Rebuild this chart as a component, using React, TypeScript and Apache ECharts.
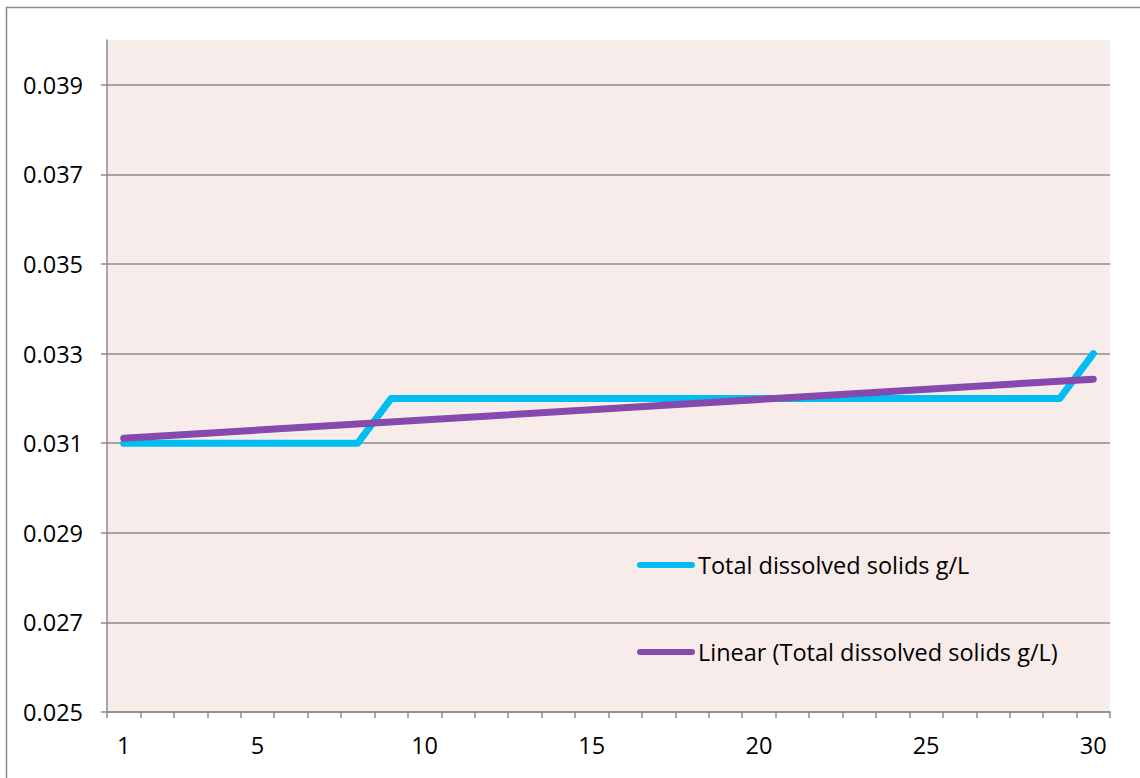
import React, { useEffect, useRef } from "react";
import * as echarts from "echarts";

// Sample days along the x axis
const days: string[] = Array.from({ length: 30 }, (_, i) => String(i + 1));
// Total dissolved solids per day, g/L
const tds: number[] = [
  0.031, 0.031, 0.031, 0.031, 0.031, 0.031, 0.031, 0.031,
  0.032, 0.032, 0.032, 0.032, 0.032, 0.032, 0.032, 0.032, 0.032, 0.032,
  0.032, 0.032, 0.032, 0.032, 0.032, 0.032, 0.032, 0.032, 0.032, 0.032, 0.032,
  0.033,
];
// Linear trend line end points (day 1 and day 30)
const trendStart = 0.03111;
const trendEnd = 0.03243;
// Y axis ticks
const yTicks: number[] = [0.025, 0.027, 0.029, 0.031, 0.033, 0.035, 0.037, 0.039];
// Days that carry an x axis label
const xLabelDays: number[] = [1, 5, 10, 15, 20, 25, 30];

const SERIES_NAME = "Total dissolved solids g/L";
const TREND_NAME = "Linear (Total dissolved solids g/L)";
const FONT = "'Open Sans', Lato, sans-serif";
const GRID_COLOR = "#8c8c8c";

export default function App() {
  const ref = useRef<HTMLDivElement>(null);

  useEffect(() => {
    document.body.style.margin = "0";
    if (!ref.current) return;
    const chart = echarts.init(ref.current, undefined, { renderer: "svg" });
    const capsule = "path://M3,0 L55,0 A3,3 0 0 1 55,6 L3,6 A3,3 0 0 1 3,0 Z";

    chart.setOption({
      animation: false,
      backgroundColor: "#ffffff",
      textStyle: { fontFamily: FONT },
      graphic: [
        {
          type: "rect",
          left: 4,
          top: 5,
          shape: { width: 1200, height: 1000 },
          style: { fill: "none", stroke: GRID_COLOR, lineWidth: 1.5 },
          z: -10,
          silent: true,
        },
      ],
      grid: {
        left: 107,
        right: 30,
        top: 40,
        bottom: 66,
        show: true,
        backgroundColor: "#f8ecea",
        borderWidth: 0,
      },
      legend: {
        orient: "vertical",
        left: 637,
        top: 552,
        padding: 0,
        itemWidth: 58,
        itemHeight: 7,
        itemGap: 61,
        icon: capsule,
        textStyle: { fontFamily: FONT, fontSize: 23.5, color: "#000", lineHeight: 26, padding: [0, 0, 0, -2] },
        data: [SERIES_NAME, TREND_NAME],
      },
      xAxis: {
        type: "category",
        data: days,
        boundaryGap: true,
        axisLine: { lineStyle: { color: GRID_COLOR, width: 1.5 } },
        axisTick: { show: true, interval: 0, length: 6, lineStyle: { color: GRID_COLOR, width: 1.5 } },
        axisLabel: {
          interval: (_i: number, v: string) => xLabelDays.includes(Number(v)),
          color: "#000",
          fontSize: 23.5,
          fontFamily: FONT,
          margin: 21,
        },
        splitLine: { show: false },
      },
      yAxis: {
        type: "value",
        min: 0.025,
        max: 0.04,
        interval: 0.002,
        axisLine: { show: true, lineStyle: { color: GRID_COLOR, width: 1.5 } },
        axisTick: {
          show: true,
          length: 6,
          customValues: yTicks,
          lineStyle: { color: GRID_COLOR, width: 1.5 },
        },
        axisLabel: {
          customValues: yTicks,
          color: "#000",
          fontSize: 23.5,
          fontFamily: FONT,
          margin: 24,
          formatter: (v: number) => v.toFixed(3),
        },
        splitLine: { show: true, lineStyle: { color: GRID_COLOR, width: 1.5 } },
      },
      series: [
        {
          name: SERIES_NAME,
          type: "line",
          data: tds,
          showSymbol: false,
          symbol: "none",
          itemStyle: { color: "#00bdf2" },
          lineStyle: { color: "#00bdf2", width: 7, cap: "round", join: "round" },
          z: 2,
        },
        {
          name: TREND_NAME,
          type: "line",
          data: [
            [0, trendStart],
            [days.length - 1, trendEnd],
          ],
          showSymbol: false,
          symbol: "none",
          itemStyle: { color: "#8649ad" },
          lineStyle: { color: "#8649ad", width: 7, cap: "round", join: "round" },
          z: 3,
        },
      ],
    });

    return () => chart.dispose();
  }, []);

  return <div ref={ref} style={{ width: 1140, height: 778 }} />;
}
